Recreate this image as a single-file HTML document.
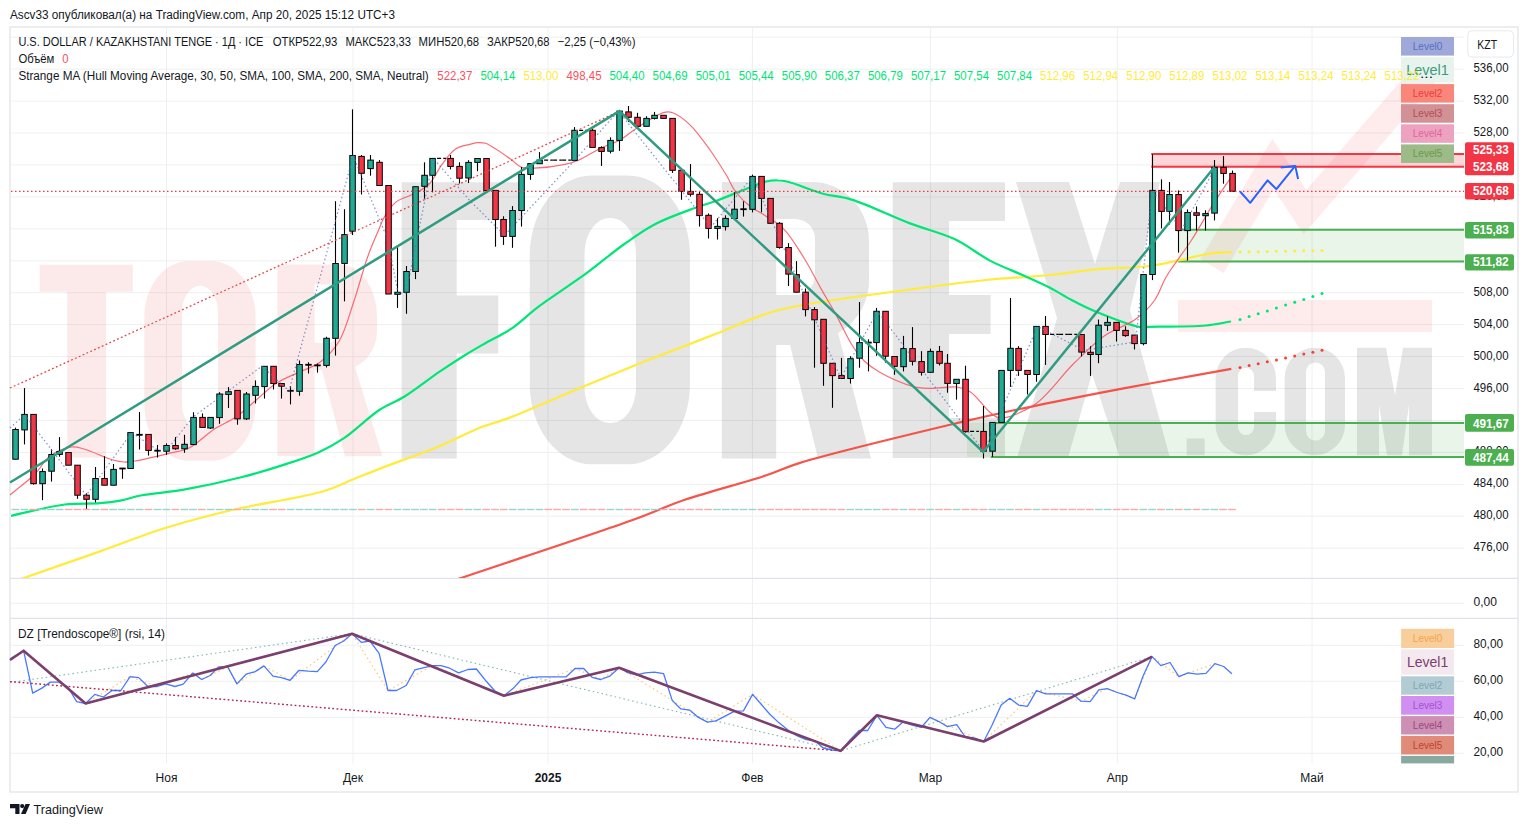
<!DOCTYPE html><html><head><meta charset="utf-8"><style>html,body{margin:0;padding:0;width:1528px;height:827px;overflow:hidden;background:#fff}</style></head><body>
<svg width="1528" height="827" viewBox="0 0 1528 827" style="position:absolute;left:0;top:0;font-family:'Liberation Sans', sans-serif">
<rect x="0" y="0" width="1528" height="827" fill="#ffffff"/>
<rect x="10" y="27" width="1508" height="765" fill="#ffffff" stroke="#e8e9ec" stroke-width="1.6"/>
<line x1="11" y1="548.2" x2="1464" y2="548.2" stroke="#eef0f0" stroke-width="1"/>
<line x1="11" y1="516.2" x2="1464" y2="516.2" stroke="#eef0f0" stroke-width="1"/>
<line x1="11" y1="484.3" x2="1464" y2="484.3" stroke="#eef0f0" stroke-width="1"/>
<line x1="11" y1="452.4" x2="1464" y2="452.4" stroke="#eef0f0" stroke-width="1"/>
<line x1="11" y1="420.4" x2="1464" y2="420.4" stroke="#eef0f0" stroke-width="1"/>
<line x1="11" y1="388.5" x2="1464" y2="388.5" stroke="#eef0f0" stroke-width="1"/>
<line x1="11" y1="356.6" x2="1464" y2="356.6" stroke="#eef0f0" stroke-width="1"/>
<line x1="11" y1="324.6" x2="1464" y2="324.6" stroke="#eef0f0" stroke-width="1"/>
<line x1="11" y1="292.7" x2="1464" y2="292.7" stroke="#eef0f0" stroke-width="1"/>
<line x1="11" y1="260.8" x2="1464" y2="260.8" stroke="#eef0f0" stroke-width="1"/>
<line x1="11" y1="228.8" x2="1464" y2="228.8" stroke="#eef0f0" stroke-width="1"/>
<line x1="11" y1="196.9" x2="1464" y2="196.9" stroke="#eef0f0" stroke-width="1"/>
<line x1="11" y1="164.9" x2="1464" y2="164.9" stroke="#eef0f0" stroke-width="1"/>
<line x1="11" y1="133.0" x2="1464" y2="133.0" stroke="#eef0f0" stroke-width="1"/>
<line x1="11" y1="101.1" x2="1464" y2="101.1" stroke="#eef0f0" stroke-width="1"/>
<line x1="11" y1="69.1" x2="1464" y2="69.1" stroke="#eef0f0" stroke-width="1"/>
<line x1="11" y1="37.2" x2="1464" y2="37.2" stroke="#eef0f0" stroke-width="1"/>
<line x1="11" y1="603.3" x2="1464" y2="603.3" stroke="#eef0f0" stroke-width="1"/>
<line x1="11" y1="753.3" x2="1464" y2="753.3" stroke="#eef0f0" stroke-width="1"/>
<line x1="11" y1="717.3" x2="1464" y2="717.3" stroke="#eef0f0" stroke-width="1"/>
<line x1="11" y1="681.3" x2="1464" y2="681.3" stroke="#eef0f0" stroke-width="1"/>
<line x1="11" y1="645.3" x2="1464" y2="645.3" stroke="#eef0f0" stroke-width="1"/>
<line x1="166.5" y1="28" x2="166.5" y2="763.4" stroke="#eef0f0" stroke-width="1"/>
<line x1="353" y1="28" x2="353" y2="763.4" stroke="#eef0f0" stroke-width="1"/>
<line x1="548" y1="28" x2="548" y2="763.4" stroke="#eef0f0" stroke-width="1"/>
<line x1="752.4" y1="28" x2="752.4" y2="763.4" stroke="#eef0f0" stroke-width="1"/>
<line x1="930.4" y1="28" x2="930.4" y2="763.4" stroke="#eef0f0" stroke-width="1"/>
<line x1="1117.3" y1="28" x2="1117.3" y2="763.4" stroke="#eef0f0" stroke-width="1"/>
<line x1="1312" y1="28" x2="1312" y2="763.4" stroke="#eef0f0" stroke-width="1"/>
<line x1="10" y1="578.3" x2="1518" y2="578.3" stroke="#e0e3eb" stroke-width="1.2"/>
<line x1="10" y1="618.3" x2="1518" y2="618.3" stroke="#e0e3eb" stroke-width="1.2"/>
<g clip-path="url(#mainclip)">
<defs><clipPath id="mainclip"><rect x="11" y="28" width="1453" height="550"/></clipPath></defs>
<path fill="#e63232" fill-opacity="0.1" d="M39.6,264.7H132.9V291.8H106V457.5H67.3V291.8H39.6Z"/>
<path fill="#e63232" fill-opacity="0.1" fill-rule="evenodd" d="M188.3,261.3 H211.6 A44.0,56.0 0 0 1 255.6,317.3 V404.7 A44.0,56.0 0 0 1 211.6,460.7 H188.3 A44.0,56.0 0 0 1 144.3,404.7 V317.3 A44.0,56.0 0 0 1 188.3,261.3 Z M200.0,285.8 H200.0 A18.0,26.0 0 0 1 218.0,311.8 V403.7 A18.0,26.0 0 0 1 200.0,429.7 H200.0 A18.0,26.0 0 0 1 182.0,403.7 V311.8 A18.0,26.0 0 0 1 200.0,285.8 Z"/>
<path fill="#e63232" fill-opacity="0.1" fill-rule="evenodd" d="M277.3,264.6 H340 A37,52 0 0 1 377,316.6 V330 A37,40 0 0 1 355,367 L382.4,456.2 H345 L322,370 H314.6 V456.2 H277.3 Z M314.6,284.6 H328 A12,20 0 0 1 340,304.6 V323 A12,20 0 0 1 328,343.1 H314.6 Z"/>
<path fill="#000" fill-opacity="0.1" d="M401.6,182.2 H523 V220 H456.7 V295.4 H498.3 V353.6 H456.7 V458.6 H401.6 Z"/>
<path fill="#000" fill-opacity="0.1" fill-rule="evenodd" d="M591.7,175.5 H628.0 A62.0,80.0 0 0 1 690.0,255.5 V384.2 A62.0,80.0 0 0 1 628.0,464.2 H591.7 A62.0,80.0 0 0 1 529.7,384.2 V255.5 A62.0,80.0 0 0 1 591.7,175.5 Z M609.5,218.0 H611.0 A25.0,36.0 0 0 1 636.0,254.0 V387.0 A25.0,36.0 0 0 1 611.0,423.0 H609.5 A25.0,36.0 0 0 1 584.5,387.0 V254.0 A25.0,36.0 0 0 1 609.5,218.0 Z"/>
<path fill="#000" fill-opacity="0.1" fill-rule="evenodd" d="M721.8,182 H812 A57,59 0 0 1 869,241 V275 A57,60 0 0 1 838,333 L871,458.4 H818 L790,345 H776.2 V458.4 H721.8 Z M776.2,219 H795 A20,20 0 0 1 815,239 V275 A20,20 0 0 1 795,295 H776.2 Z"/>
<path fill="#000" fill-opacity="0.1" d="M892.7,182.3 H1005 V221 H949 V295 H990.6 V334 H949 V418 H1005 V458 H892.7 Z"/>
<path fill="#000" fill-opacity="0.1" d="M1016,182 H1069 L1095,264 L1120,182 H1160 L1130,310 L1170,458 H1120 L1092,374 L1068,458 H1017 L1057,318 Z"/>
<rect x="1186.6" y="438.4" width="18.1" height="16.9" fill="#000" fill-opacity="0.1"/>
<path fill="#000" fill-opacity="0.1" d="M1215.6,378 A30.2,30.2 0 0 1 1276,378 V391 H1254 V376 A8,8 0 0 0 1238,376 V427 A8,8 0 0 0 1254,427 V412 H1276 V425 A30.2,30.2 0 0 1 1215.6,425 Z"/>
<path fill="#000" fill-opacity="0.1" fill-rule="evenodd" d="M1284.6,378 A30.2,30.2 0 0 1 1345,378 V425 A30.2,30.2 0 0 1 1284.6,425 Z M1306,372 A9.5,9.5 0 0 1 1325,372 V431 A9.5,9.5 0 0 1 1306,431 Z"/>
<path fill="#000" fill-opacity="0.1" d="M1357,347.7 H1386 L1395,395 L1403,347.7 H1432 V455.3 H1409 V405 L1402,455.3 H1387 L1379,405 V455.3 H1357 Z"/>
<rect x="1178" y="300" width="254" height="32" fill="#f23645" fill-opacity="0.10"/>
<polyline points="1212,266 1273,164 1305,212 1428,70" fill="none" stroke="#f23645" stroke-opacity="0.10" stroke-width="27" stroke-linejoin="miter"/>
</g>
<rect x="1151.3" y="153.9" width="312.7" height="12.8" fill="#f23645" fill-opacity="0.2"/>
<line x1="1151.3" y1="153.9" x2="1464" y2="153.9" stroke="#f23645" stroke-width="2"/>
<line x1="1151.3" y1="166.7" x2="1464" y2="166.7" stroke="#f23645" stroke-width="2"/>
<rect x="1178" y="229.7" width="286" height="31.9" fill="#4caf50" fill-opacity="0.13"/>
<line x1="1182" y1="229.7" x2="1464" y2="229.7" stroke="#4caf50" stroke-width="2"/>
<line x1="1178" y1="261.6" x2="1464" y2="261.6" stroke="#4caf50" stroke-width="2"/>
<rect x="967" y="422.7" width="497" height="34.2" fill="#4caf50" fill-opacity="0.13"/>
<line x1="996" y1="422.9" x2="1464" y2="422.9" stroke="#4caf50" stroke-width="2"/>
<line x1="990.8" y1="456.9" x2="1464" y2="456.9" stroke="#4caf50" stroke-width="2"/>
<g clip-path="url(#paneclip)"><defs><clipPath id="paneclip"><rect x="11" y="28" width="1453" height="550"/></clipPath></defs>
<path d="M18.0,580.0 C45.3,570.5 74.2,560.5 100.0,551.4 C123.2,543.2 143.9,534.7 166.0,527.8 C187.9,521.0 208.1,515.7 232.0,510.0 C259.9,503.4 301.3,497.8 323.4,491.2 C336.5,487.3 344.2,482.9 353.9,479.0 C362.8,475.5 369.0,472.9 379.3,468.9 C395.2,462.7 422.1,453.4 440.0,445.9 C454.6,439.8 467.0,432.7 479.2,427.9 C489.6,423.8 497.0,422.4 508.5,418.1 C525.4,411.7 549.6,400.8 570.5,392.0 C592.0,383.0 617.7,372.2 635.8,364.9 C648.5,359.8 656.5,356.8 668.5,352.2 C683.2,346.5 701.1,339.7 717.4,333.3 C733.7,326.9 751.4,318.5 766.4,313.7 C778.5,309.8 785.5,308.3 800.0,305.5 C826.0,300.4 876.7,294.0 910.0,289.5 C937.6,285.8 961.7,282.5 986.0,280.0 C1008.2,277.7 1030.3,277.0 1050.0,275.0 C1067.0,273.3 1081.2,270.6 1097.4,269.1 C1114.2,267.6 1134.1,267.9 1149.0,266.0 C1160.6,264.6 1169.6,262.3 1179.7,260.2 C1189.5,258.2 1199.3,255.2 1208.5,253.8 C1216.7,252.6 1224.2,252.6 1232.0,252.0" fill="none" stroke="#ffeb3b" stroke-width="2.2"/>
<path d="M10.0,516.0 C28.2,512.2 48.4,506.5 64.7,504.5 C77.7,502.9 89.9,504.0 100.0,503.2 C107.7,502.6 113.6,501.9 120.3,500.6 C127.1,499.3 132.5,497.1 140.6,495.5 C152.3,493.3 168.4,492.4 183.8,489.7 C201.9,486.5 224.6,481.5 242.2,477.0 C257.0,473.2 269.8,469.3 282.8,465.1 C295.1,461.1 307.6,457.2 318.3,452.4 C327.7,448.2 334.8,444.3 343.7,438.4 C354.9,430.9 368.1,417.4 379.3,410.0 C388.2,404.2 395.6,402.0 404.6,396.5 C415.6,389.7 429.0,378.8 440.0,371.4 C449.3,365.1 457.9,359.5 466.0,354.5 C473.0,350.2 478.7,347.0 485.7,343.0 C493.8,338.4 503.3,334.2 511.8,328.4 C520.8,322.3 527.7,314.8 537.9,307.1 C551.5,296.8 571.8,284.0 586.9,272.9 C600.4,263.0 612.3,252.5 624.4,244.0 C635.1,236.5 644.2,229.8 655.4,224.0 C667.5,217.7 683.8,212.1 694.8,208.0 C702.6,205.1 707.4,204.1 715.0,201.3 C724.9,197.7 739.6,191.4 749.0,187.8 C755.6,185.3 760.8,182.7 766.0,181.5 C770.3,180.5 774.3,180.4 778.0,180.5 C781.2,180.5 783.1,180.6 787.0,181.5 C795.1,183.3 811.6,190.6 823.0,193.7 C833.0,196.4 840.6,196.2 851.6,199.6 C867.8,204.5 891.7,216.5 910.0,223.4 C925.9,229.4 941.3,232.8 955.0,239.3 C967.7,245.3 978.2,254.4 990.0,260.6 C1001.4,266.6 1014.1,271.2 1024.7,276.0 C1033.8,280.1 1042.0,283.6 1050.0,287.7 C1057.6,291.6 1064.0,296.0 1071.6,300.0 C1079.7,304.3 1087.6,308.3 1097.4,312.3 C1109.6,317.3 1130.8,325.6 1139.7,327.0 C1143.7,327.6 1144.3,326.9 1148.5,326.8 C1159.3,326.6 1190.7,326.9 1205.9,325.5 C1216.0,324.6 1222.6,322.8 1231.0,321.5" fill="none" stroke="#00e676" stroke-width="2.2"/>
<path d="M455.0,580.0 C514.2,560.0 591.1,535.0 632.6,520.0 C655.3,511.8 665.3,506.5 684.8,499.8 C708.8,491.6 745.2,482.4 766.4,475.3 C780.1,470.7 784.5,467.7 800.0,462.9 C833.4,452.6 919.5,432.1 960.0,422.4 C984.6,416.5 998.2,413.6 1019.6,409.0 C1044.4,403.7 1076.4,397.4 1100.0,392.8 C1118.6,389.2 1131.3,386.9 1150.0,383.5 C1173.8,379.1 1204.2,373.7 1231.3,368.8" fill="none" stroke="#f44336" stroke-opacity="0.9" stroke-width="2.2"/>
</g>
<circle cx="1240.0" cy="252.0" r="1.5" fill="#ffeb3b"/>
<circle cx="1249.1" cy="251.8" r="1.5" fill="#ffeb3b"/>
<circle cx="1258.2" cy="251.7" r="1.5" fill="#ffeb3b"/>
<circle cx="1267.3" cy="251.5" r="1.5" fill="#ffeb3b"/>
<circle cx="1276.4" cy="251.3" r="1.5" fill="#ffeb3b"/>
<circle cx="1285.6" cy="251.2" r="1.5" fill="#ffeb3b"/>
<circle cx="1294.7" cy="251.0" r="1.5" fill="#ffeb3b"/>
<circle cx="1303.8" cy="250.8" r="1.5" fill="#ffeb3b"/>
<circle cx="1312.9" cy="250.7" r="1.5" fill="#ffeb3b"/>
<circle cx="1322.0" cy="250.5" r="1.5" fill="#ffeb3b"/>
<circle cx="1240.0" cy="319.5" r="1.5" fill="#00e676"/>
<circle cx="1249.1" cy="316.6" r="1.5" fill="#00e676"/>
<circle cx="1258.2" cy="313.7" r="1.5" fill="#00e676"/>
<circle cx="1267.3" cy="310.9" r="1.5" fill="#00e676"/>
<circle cx="1276.4" cy="308.0" r="1.5" fill="#00e676"/>
<circle cx="1285.6" cy="305.1" r="1.5" fill="#00e676"/>
<circle cx="1294.7" cy="302.2" r="1.5" fill="#00e676"/>
<circle cx="1303.8" cy="299.4" r="1.5" fill="#00e676"/>
<circle cx="1312.9" cy="296.5" r="1.5" fill="#00e676"/>
<circle cx="1322.0" cy="293.6" r="1.5" fill="#00e676"/>
<circle cx="1240.0" cy="367.5" r="1.5" fill="#f44336"/>
<circle cx="1249.1" cy="365.6" r="1.5" fill="#f44336"/>
<circle cx="1258.2" cy="363.7" r="1.5" fill="#f44336"/>
<circle cx="1267.3" cy="361.8" r="1.5" fill="#f44336"/>
<circle cx="1276.4" cy="359.9" r="1.5" fill="#f44336"/>
<circle cx="1285.6" cy="357.9" r="1.5" fill="#f44336"/>
<circle cx="1294.7" cy="356.0" r="1.5" fill="#f44336"/>
<circle cx="1303.8" cy="354.1" r="1.5" fill="#f44336"/>
<circle cx="1312.9" cy="352.2" r="1.5" fill="#f44336"/>
<circle cx="1322.0" cy="350.3" r="1.5" fill="#f44336"/>
<path d="M10.0,495.0 C18.3,488.0 28.0,481.0 35.0,474.0 C40.9,468.0 43.9,460.5 50.0,456.0 C56.1,451.5 65.2,447.8 71.5,447.0 C76.1,446.4 79.1,447.7 84.0,449.0 C91.7,451.1 105.6,457.9 113.0,460.0 C117.5,461.2 120.3,461.8 124.0,462.0 C127.7,462.2 130.4,461.7 135.0,461.0 C143.1,459.7 158.3,456.0 168.0,453.6 C175.8,451.7 182.0,451.4 189.0,448.0 C197.5,443.9 206.1,434.4 214.4,429.0 C221.7,424.3 229.3,421.6 236.0,417.0 C242.6,412.5 247.9,407.0 254.3,401.7 C261.2,395.9 268.4,388.4 276.0,383.5 C283.0,378.9 290.6,376.1 298.0,372.6 C305.3,369.1 313.4,367.2 320.0,362.3 C327.1,357.1 333.5,350.4 338.8,341.8 C345.4,331.0 349.3,314.9 354.0,301.0 C358.9,286.7 363.0,269.8 367.6,257.0 C371.2,246.8 375.4,237.4 378.6,230.0 C380.8,224.8 381.9,221.2 384.5,216.8 C387.6,211.7 391.7,205.3 396.4,201.6 C400.8,198.2 406.5,197.5 411.6,194.8 C417.2,191.9 423.7,189.4 428.6,184.7 C434.0,179.5 437.3,170.6 442.0,164.4 C446.3,158.7 450.5,152.3 455.6,149.0 C460.0,146.1 466.0,145.5 470.0,144.4 C472.7,143.6 474.5,142.9 477.0,142.7 C479.7,142.5 482.0,142.2 485.4,143.3 C491.8,145.4 504.3,154.8 510.8,159.3 C515.0,162.2 517.1,165.5 521.0,167.0 C525.0,168.5 529.1,168.2 534.5,168.1 C542.6,167.9 556.9,166.1 565.0,164.4 C570.5,163.2 573.6,162.3 578.5,160.2 C585.1,157.4 593.3,151.8 600.5,148.3 C607.1,145.1 614.0,143.3 620.0,140.0 C625.7,136.8 629.4,132.8 635.5,128.9 C643.5,123.7 657.4,113.9 664.3,112.3 C667.8,111.5 669.6,111.7 672.7,112.8 C677.6,114.5 684.2,119.4 689.7,124.6 C696.7,131.1 703.7,141.3 710.0,150.0 C716.1,158.5 722.4,168.7 727.0,176.3 C730.4,182.0 731.8,186.7 735.4,191.5 C739.4,196.9 745.3,202.6 750.6,206.7 C755.3,210.4 759.9,212.1 765.0,215.5 C771.0,219.5 778.1,223.2 784.0,229.3 C791.3,236.7 797.8,248.1 804.0,258.0 C810.2,267.9 815.5,278.9 821.0,288.6 C826.0,297.5 830.6,304.9 835.6,313.9 C841.1,323.9 847.1,337.4 852.6,346.0 C856.6,352.2 859.9,356.9 864.5,361.3 C869.0,365.6 873.4,368.7 879.7,372.3 C888.5,377.3 904.0,384.1 913.5,386.6 C920.0,388.3 924.2,388.2 930.5,388.4 C938.3,388.6 949.7,385.9 957.0,387.0 C962.4,387.8 965.9,389.0 970.5,392.0 C977.1,396.3 985.1,408.8 990.8,413.1 C994.2,415.7 995.9,417.8 1000.0,418.0 C1007.8,418.5 1023.7,411.9 1034.8,404.5 C1048.4,395.4 1061.1,375.9 1073.5,363.8 C1084.2,353.4 1093.7,343.4 1104.5,335.8 C1114.4,328.8 1126.8,325.8 1135.5,319.3 C1143.2,313.6 1149.9,306.9 1154.8,300.0 C1159.3,293.7 1161.6,285.3 1164.5,280.0 C1166.5,276.3 1167.5,274.7 1170.0,270.8 C1174.7,263.5 1184.7,250.6 1191.6,240.0 C1198.7,229.1 1205.3,216.7 1212.0,206.0 C1218.2,196.1 1224.3,187.3 1230.5,178.0" fill="none" stroke="#f7525f" stroke-opacity="0.85" stroke-width="1.2"/>
<rect x="11.6" y="508.8" width="7.6" height="1.4" fill="#9ad4ce"/>
<rect x="20.5" y="508.8" width="7.6" height="1.4" fill="#9ad4ce"/>
<rect x="29.4" y="508.8" width="7.6" height="1.4" fill="#f7aaa9"/>
<rect x="38.3" y="508.8" width="7.6" height="1.4" fill="#9ad4ce"/>
<rect x="47.2" y="508.8" width="7.6" height="1.4" fill="#9ad4ce"/>
<rect x="56.0" y="508.8" width="7.6" height="1.4" fill="#9ad4ce"/>
<rect x="64.9" y="508.8" width="7.6" height="1.4" fill="#f7aaa9"/>
<rect x="73.8" y="508.8" width="7.6" height="1.4" fill="#f7aaa9"/>
<rect x="82.7" y="508.8" width="7.6" height="1.4" fill="#f7aaa9"/>
<rect x="91.6" y="508.8" width="7.6" height="1.4" fill="#9ad4ce"/>
<rect x="100.4" y="508.8" width="7.6" height="1.4" fill="#f7aaa9"/>
<rect x="109.3" y="508.8" width="7.6" height="1.4" fill="#9ad4ce"/>
<rect x="118.2" y="508.8" width="7.6" height="1.4" fill="#9ad4ce"/>
<rect x="127.1" y="508.8" width="7.6" height="1.4" fill="#9ad4ce"/>
<rect x="136.0" y="508.8" width="7.6" height="1.4" fill="#9ad4ce"/>
<rect x="144.8" y="508.8" width="7.6" height="1.4" fill="#f7aaa9"/>
<rect x="153.7" y="508.8" width="7.6" height="1.4" fill="#9ad4ce"/>
<rect x="162.6" y="508.8" width="7.6" height="1.4" fill="#9ad4ce"/>
<rect x="171.5" y="508.8" width="7.6" height="1.4" fill="#f7aaa9"/>
<rect x="180.4" y="508.8" width="7.6" height="1.4" fill="#9ad4ce"/>
<rect x="189.2" y="508.8" width="7.6" height="1.4" fill="#9ad4ce"/>
<rect x="198.1" y="508.8" width="7.6" height="1.4" fill="#f7aaa9"/>
<rect x="207.0" y="508.8" width="7.6" height="1.4" fill="#9ad4ce"/>
<rect x="215.9" y="508.8" width="7.6" height="1.4" fill="#9ad4ce"/>
<rect x="224.8" y="508.8" width="7.6" height="1.4" fill="#9ad4ce"/>
<rect x="233.6" y="508.8" width="7.6" height="1.4" fill="#f7aaa9"/>
<rect x="242.5" y="508.8" width="7.6" height="1.4" fill="#9ad4ce"/>
<rect x="251.4" y="508.8" width="7.6" height="1.4" fill="#9ad4ce"/>
<rect x="260.3" y="508.8" width="7.6" height="1.4" fill="#9ad4ce"/>
<rect x="269.2" y="508.8" width="7.6" height="1.4" fill="#f7aaa9"/>
<rect x="278.0" y="508.8" width="7.6" height="1.4" fill="#f7aaa9"/>
<rect x="286.9" y="508.8" width="7.6" height="1.4" fill="#9ad4ce"/>
<rect x="295.8" y="508.8" width="7.6" height="1.4" fill="#9ad4ce"/>
<rect x="304.7" y="508.8" width="7.6" height="1.4" fill="#9ad4ce"/>
<rect x="313.6" y="508.8" width="7.6" height="1.4" fill="#9ad4ce"/>
<rect x="322.4" y="508.8" width="7.6" height="1.4" fill="#9ad4ce"/>
<rect x="331.3" y="508.8" width="7.6" height="1.4" fill="#9ad4ce"/>
<rect x="340.2" y="508.8" width="7.6" height="1.4" fill="#9ad4ce"/>
<rect x="349.1" y="508.8" width="7.6" height="1.4" fill="#9ad4ce"/>
<rect x="358.0" y="508.8" width="7.6" height="1.4" fill="#f7aaa9"/>
<rect x="366.8" y="508.8" width="7.6" height="1.4" fill="#9ad4ce"/>
<rect x="375.7" y="508.8" width="7.6" height="1.4" fill="#f7aaa9"/>
<rect x="384.6" y="508.8" width="7.6" height="1.4" fill="#f7aaa9"/>
<rect x="393.5" y="508.8" width="7.6" height="1.4" fill="#9ad4ce"/>
<rect x="402.4" y="508.8" width="7.6" height="1.4" fill="#9ad4ce"/>
<rect x="411.2" y="508.8" width="7.6" height="1.4" fill="#9ad4ce"/>
<rect x="420.1" y="508.8" width="7.6" height="1.4" fill="#9ad4ce"/>
<rect x="429.0" y="508.8" width="7.6" height="1.4" fill="#9ad4ce"/>
<rect x="437.9" y="508.8" width="7.6" height="1.4" fill="#f7aaa9"/>
<rect x="446.8" y="508.8" width="7.6" height="1.4" fill="#f7aaa9"/>
<rect x="455.6" y="508.8" width="7.6" height="1.4" fill="#f7aaa9"/>
<rect x="464.5" y="508.8" width="7.6" height="1.4" fill="#9ad4ce"/>
<rect x="473.4" y="508.8" width="7.6" height="1.4" fill="#9ad4ce"/>
<rect x="482.3" y="508.8" width="7.6" height="1.4" fill="#f7aaa9"/>
<rect x="491.2" y="508.8" width="7.6" height="1.4" fill="#f7aaa9"/>
<rect x="500.0" y="508.8" width="7.6" height="1.4" fill="#f7aaa9"/>
<rect x="508.9" y="508.8" width="7.6" height="1.4" fill="#9ad4ce"/>
<rect x="517.8" y="508.8" width="7.6" height="1.4" fill="#9ad4ce"/>
<rect x="526.7" y="508.8" width="7.6" height="1.4" fill="#9ad4ce"/>
<rect x="535.6" y="508.8" width="7.6" height="1.4" fill="#9ad4ce"/>
<rect x="544.4" y="508.8" width="7.6" height="1.4" fill="#f7aaa9"/>
<rect x="553.3" y="508.8" width="7.6" height="1.4" fill="#f7aaa9"/>
<rect x="562.2" y="508.8" width="7.6" height="1.4" fill="#f7aaa9"/>
<rect x="571.1" y="508.8" width="7.6" height="1.4" fill="#9ad4ce"/>
<rect x="580.0" y="508.8" width="7.6" height="1.4" fill="#f7aaa9"/>
<rect x="588.8" y="508.8" width="7.6" height="1.4" fill="#f7aaa9"/>
<rect x="597.7" y="508.8" width="7.6" height="1.4" fill="#f7aaa9"/>
<rect x="606.6" y="508.8" width="7.6" height="1.4" fill="#9ad4ce"/>
<rect x="615.5" y="508.8" width="7.6" height="1.4" fill="#9ad4ce"/>
<rect x="624.4" y="508.8" width="7.6" height="1.4" fill="#f7aaa9"/>
<rect x="633.2" y="508.8" width="7.6" height="1.4" fill="#f7aaa9"/>
<rect x="642.1" y="508.8" width="7.6" height="1.4" fill="#9ad4ce"/>
<rect x="651.0" y="508.8" width="7.6" height="1.4" fill="#9ad4ce"/>
<rect x="659.9" y="508.8" width="7.6" height="1.4" fill="#f7aaa9"/>
<rect x="668.8" y="508.8" width="7.6" height="1.4" fill="#f7aaa9"/>
<rect x="677.6" y="508.8" width="7.6" height="1.4" fill="#f7aaa9"/>
<rect x="686.5" y="508.8" width="7.6" height="1.4" fill="#f7aaa9"/>
<rect x="695.4" y="508.8" width="7.6" height="1.4" fill="#f7aaa9"/>
<rect x="704.3" y="508.8" width="7.6" height="1.4" fill="#f7aaa9"/>
<rect x="713.2" y="508.8" width="7.6" height="1.4" fill="#9ad4ce"/>
<rect x="722.0" y="508.8" width="7.6" height="1.4" fill="#9ad4ce"/>
<rect x="730.9" y="508.8" width="7.6" height="1.4" fill="#9ad4ce"/>
<rect x="739.8" y="508.8" width="7.6" height="1.4" fill="#9ad4ce"/>
<rect x="748.7" y="508.8" width="7.6" height="1.4" fill="#9ad4ce"/>
<rect x="757.6" y="508.8" width="7.6" height="1.4" fill="#f7aaa9"/>
<rect x="766.4" y="508.8" width="7.6" height="1.4" fill="#f7aaa9"/>
<rect x="775.3" y="508.8" width="7.6" height="1.4" fill="#f7aaa9"/>
<rect x="784.2" y="508.8" width="7.6" height="1.4" fill="#f7aaa9"/>
<rect x="793.1" y="508.8" width="7.6" height="1.4" fill="#f7aaa9"/>
<rect x="802.0" y="508.8" width="7.6" height="1.4" fill="#f7aaa9"/>
<rect x="810.8" y="508.8" width="7.6" height="1.4" fill="#f7aaa9"/>
<rect x="819.7" y="508.8" width="7.6" height="1.4" fill="#f7aaa9"/>
<rect x="828.6" y="508.8" width="7.6" height="1.4" fill="#f7aaa9"/>
<rect x="837.5" y="508.8" width="7.6" height="1.4" fill="#f7aaa9"/>
<rect x="846.4" y="508.8" width="7.6" height="1.4" fill="#9ad4ce"/>
<rect x="855.2" y="508.8" width="7.6" height="1.4" fill="#9ad4ce"/>
<rect x="864.1" y="508.8" width="7.6" height="1.4" fill="#9ad4ce"/>
<rect x="873.0" y="508.8" width="7.6" height="1.4" fill="#9ad4ce"/>
<rect x="881.9" y="508.8" width="7.6" height="1.4" fill="#f7aaa9"/>
<rect x="890.8" y="508.8" width="7.6" height="1.4" fill="#f7aaa9"/>
<rect x="899.6" y="508.8" width="7.6" height="1.4" fill="#9ad4ce"/>
<rect x="908.5" y="508.8" width="7.6" height="1.4" fill="#f7aaa9"/>
<rect x="917.4" y="508.8" width="7.6" height="1.4" fill="#f7aaa9"/>
<rect x="926.3" y="508.8" width="7.6" height="1.4" fill="#9ad4ce"/>
<rect x="935.2" y="508.8" width="7.6" height="1.4" fill="#f7aaa9"/>
<rect x="944.0" y="508.8" width="7.6" height="1.4" fill="#f7aaa9"/>
<rect x="952.9" y="508.8" width="7.6" height="1.4" fill="#9ad4ce"/>
<rect x="961.8" y="508.8" width="7.6" height="1.4" fill="#f7aaa9"/>
<rect x="970.7" y="508.8" width="7.6" height="1.4" fill="#f7aaa9"/>
<rect x="979.6" y="508.8" width="7.6" height="1.4" fill="#f7aaa9"/>
<rect x="988.4" y="508.8" width="7.6" height="1.4" fill="#9ad4ce"/>
<rect x="997.3" y="508.8" width="7.6" height="1.4" fill="#9ad4ce"/>
<rect x="1006.2" y="508.8" width="7.6" height="1.4" fill="#9ad4ce"/>
<rect x="1015.1" y="508.8" width="7.6" height="1.4" fill="#f7aaa9"/>
<rect x="1024.0" y="508.8" width="7.6" height="1.4" fill="#f7aaa9"/>
<rect x="1032.8" y="508.8" width="7.6" height="1.4" fill="#9ad4ce"/>
<rect x="1041.7" y="508.8" width="7.6" height="1.4" fill="#f7aaa9"/>
<rect x="1050.6" y="508.8" width="7.6" height="1.4" fill="#f7aaa9"/>
<rect x="1059.5" y="508.8" width="7.6" height="1.4" fill="#f7aaa9"/>
<rect x="1068.4" y="508.8" width="7.6" height="1.4" fill="#f7aaa9"/>
<rect x="1077.2" y="508.8" width="7.6" height="1.4" fill="#f7aaa9"/>
<rect x="1086.1" y="508.8" width="7.6" height="1.4" fill="#f7aaa9"/>
<rect x="1095.0" y="508.8" width="7.6" height="1.4" fill="#9ad4ce"/>
<rect x="1103.9" y="508.8" width="7.6" height="1.4" fill="#9ad4ce"/>
<rect x="1112.8" y="508.8" width="7.6" height="1.4" fill="#f7aaa9"/>
<rect x="1121.6" y="508.8" width="7.6" height="1.4" fill="#f7aaa9"/>
<rect x="1130.5" y="508.8" width="7.6" height="1.4" fill="#f7aaa9"/>
<rect x="1139.4" y="508.8" width="7.6" height="1.4" fill="#9ad4ce"/>
<rect x="1148.3" y="508.8" width="7.6" height="1.4" fill="#9ad4ce"/>
<rect x="1157.2" y="508.8" width="7.6" height="1.4" fill="#f7aaa9"/>
<rect x="1166.0" y="508.8" width="7.6" height="1.4" fill="#9ad4ce"/>
<rect x="1174.9" y="508.8" width="7.6" height="1.4" fill="#f7aaa9"/>
<rect x="1183.8" y="508.8" width="7.6" height="1.4" fill="#9ad4ce"/>
<rect x="1192.7" y="508.8" width="7.6" height="1.4" fill="#f7aaa9"/>
<rect x="1201.6" y="508.8" width="7.6" height="1.4" fill="#9ad4ce"/>
<rect x="1210.4" y="508.8" width="7.6" height="1.4" fill="#9ad4ce"/>
<rect x="1219.3" y="508.8" width="7.6" height="1.4" fill="#f7aaa9"/>
<rect x="1228.2" y="508.8" width="7.6" height="1.4" fill="#f7aaa9"/>
<line x1="15.5" y1="427.7" x2="15.5" y2="459.2" stroke="#000" stroke-width="1.1"/>
<rect x="12.8" y="429.5" width="5.5" height="29.7" fill="#22ab94" stroke="#000" stroke-width="1"/>
<line x1="24.5" y1="388.1" x2="24.5" y2="444.4" stroke="#000" stroke-width="1.1"/>
<rect x="21.8" y="414.4" width="5.5" height="15.5" fill="#22ab94" stroke="#000" stroke-width="1"/>
<line x1="33.5" y1="414.4" x2="33.5" y2="484.6" stroke="#000" stroke-width="1.1"/>
<rect x="30.8" y="414.4" width="5.5" height="69.3" fill="#f23645" stroke="#000" stroke-width="1"/>
<line x1="42.5" y1="468.5" x2="42.5" y2="500.2" stroke="#000" stroke-width="1.1"/>
<rect x="39.8" y="471.6" width="5.5" height="12.1" fill="#22ab94" stroke="#000" stroke-width="1"/>
<line x1="51.5" y1="449.3" x2="51.5" y2="481.6" stroke="#000" stroke-width="1.1"/>
<rect x="48.8" y="454.5" width="5.5" height="16.7" fill="#22ab94" stroke="#000" stroke-width="1"/>
<line x1="59.5" y1="437.1" x2="59.5" y2="456.7" stroke="#000" stroke-width="1.1"/>
<rect x="56.8" y="451.6" width="5.5" height="2.8" fill="#22ab94" stroke="#000" stroke-width="1"/>
<line x1="68.5" y1="452.5" x2="68.5" y2="465.2" stroke="#000" stroke-width="1.1"/>
<rect x="65.8" y="452.5" width="5.5" height="12.7" fill="#f23645" stroke="#000" stroke-width="1"/>
<line x1="77.5" y1="465.2" x2="77.5" y2="498.8" stroke="#000" stroke-width="1.1"/>
<rect x="74.8" y="465.2" width="5.5" height="30.0" fill="#f23645" stroke="#000" stroke-width="1"/>
<line x1="86.5" y1="493.3" x2="86.5" y2="508.8" stroke="#000" stroke-width="1.1"/>
<rect x="83.8" y="495.2" width="5.5" height="4.1" fill="#f23645" stroke="#000" stroke-width="1"/>
<line x1="95.5" y1="467.0" x2="95.5" y2="502.4" stroke="#000" stroke-width="1.1"/>
<rect x="92.8" y="478.5" width="5.5" height="20.8" fill="#22ab94" stroke="#000" stroke-width="1"/>
<line x1="104.5" y1="456.2" x2="104.5" y2="485.2" stroke="#000" stroke-width="1.1"/>
<rect x="101.8" y="478.5" width="5.5" height="6.7" fill="#f23645" stroke="#000" stroke-width="1"/>
<line x1="113.5" y1="464.0" x2="113.5" y2="485.2" stroke="#000" stroke-width="1.1"/>
<rect x="110.8" y="469.4" width="5.5" height="15.8" fill="#22ab94" stroke="#000" stroke-width="1"/>
<line x1="122.5" y1="468.5" x2="122.5" y2="478.8" stroke="#000" stroke-width="1.1"/>
<rect x="119.3" y="467.6" width="6.4" height="1.8" fill="#000"/>
<line x1="130.5" y1="432.6" x2="130.5" y2="468.5" stroke="#000" stroke-width="1.1"/>
<rect x="127.8" y="432.6" width="5.5" height="35.9" fill="#22ab94" stroke="#000" stroke-width="1"/>
<line x1="139.5" y1="412.1" x2="139.5" y2="449.5" stroke="#000" stroke-width="1.1"/>
<rect x="136.3" y="433.9" width="6.4" height="1.8" fill="#000"/>
<line x1="148.5" y1="434.4" x2="148.5" y2="455.6" stroke="#000" stroke-width="1.1"/>
<rect x="145.8" y="434.4" width="5.5" height="16.0" fill="#f23645" stroke="#000" stroke-width="1"/>
<line x1="157.5" y1="444.9" x2="157.5" y2="457.6" stroke="#000" stroke-width="1.1"/>
<rect x="154.3" y="449.8" width="6.4" height="1.8" fill="#000"/>
<line x1="166.5" y1="443.4" x2="166.5" y2="454.8" stroke="#000" stroke-width="1.1"/>
<rect x="163.8" y="445.5" width="5.5" height="5.7" fill="#22ab94" stroke="#000" stroke-width="1"/>
<line x1="175.5" y1="437.0" x2="175.5" y2="449.7" stroke="#000" stroke-width="1.1"/>
<rect x="172.8" y="445.5" width="5.5" height="3.3" fill="#f23645" stroke="#000" stroke-width="1"/>
<line x1="184.5" y1="434.8" x2="184.5" y2="452.8" stroke="#000" stroke-width="1.1"/>
<rect x="181.8" y="444.3" width="5.5" height="4.5" fill="#22ab94" stroke="#000" stroke-width="1"/>
<line x1="193.5" y1="412.2" x2="193.5" y2="444.6" stroke="#000" stroke-width="1.1"/>
<rect x="190.8" y="417.4" width="5.5" height="27.2" fill="#22ab94" stroke="#000" stroke-width="1"/>
<line x1="202.5" y1="413.4" x2="202.5" y2="427.4" stroke="#000" stroke-width="1.1"/>
<rect x="199.8" y="417.4" width="5.5" height="10.0" fill="#f23645" stroke="#000" stroke-width="1"/>
<line x1="210.5" y1="417.4" x2="210.5" y2="428.9" stroke="#000" stroke-width="1.1"/>
<rect x="207.8" y="417.4" width="5.5" height="10.6" fill="#22ab94" stroke="#000" stroke-width="1"/>
<line x1="219.5" y1="392.2" x2="219.5" y2="423.8" stroke="#000" stroke-width="1.1"/>
<rect x="216.8" y="394.0" width="5.5" height="23.6" fill="#22ab94" stroke="#000" stroke-width="1"/>
<line x1="228.5" y1="387.1" x2="228.5" y2="408.0" stroke="#000" stroke-width="1.1"/>
<rect x="225.8" y="391.7" width="5.5" height="2.7" fill="#22ab94" stroke="#000" stroke-width="1"/>
<line x1="237.5" y1="390.4" x2="237.5" y2="424.7" stroke="#000" stroke-width="1.1"/>
<rect x="234.8" y="390.4" width="5.5" height="28.5" fill="#f23645" stroke="#000" stroke-width="1"/>
<line x1="246.5" y1="392.0" x2="246.5" y2="420.0" stroke="#000" stroke-width="1.1"/>
<rect x="243.8" y="394.0" width="5.5" height="24.9" fill="#22ab94" stroke="#000" stroke-width="1"/>
<line x1="255.5" y1="380.4" x2="255.5" y2="403.5" stroke="#000" stroke-width="1.1"/>
<rect x="252.8" y="386.4" width="5.5" height="8.9" fill="#22ab94" stroke="#000" stroke-width="1"/>
<line x1="264.5" y1="366.3" x2="264.5" y2="398.6" stroke="#000" stroke-width="1.1"/>
<rect x="261.8" y="366.3" width="5.5" height="20.3" fill="#22ab94" stroke="#000" stroke-width="1"/>
<line x1="273.5" y1="366.3" x2="273.5" y2="389.5" stroke="#000" stroke-width="1.1"/>
<rect x="270.8" y="366.3" width="5.5" height="17.2" fill="#f23645" stroke="#000" stroke-width="1"/>
<line x1="281.5" y1="383.5" x2="281.5" y2="398.6" stroke="#000" stroke-width="1.1"/>
<rect x="278.8" y="383.5" width="5.5" height="2.7" fill="#f23645" stroke="#000" stroke-width="1"/>
<line x1="290.5" y1="386.2" x2="290.5" y2="404.4" stroke="#000" stroke-width="1.1"/>
<rect x="287.3" y="389.9" width="6.4" height="1.8" fill="#000"/>
<line x1="299.5" y1="360.5" x2="299.5" y2="395.7" stroke="#000" stroke-width="1.1"/>
<rect x="296.8" y="364.5" width="5.5" height="26.8" fill="#22ab94" stroke="#000" stroke-width="1"/>
<line x1="308.5" y1="362.3" x2="308.5" y2="373.5" stroke="#000" stroke-width="1.1"/>
<rect x="305.3" y="363.9" width="6.4" height="1.8" fill="#000"/>
<line x1="317.5" y1="363.6" x2="317.5" y2="372.6" stroke="#000" stroke-width="1.1"/>
<rect x="314.3" y="364.5" width="6.4" height="1.8" fill="#000"/>
<line x1="326.5" y1="336.7" x2="326.5" y2="367.5" stroke="#000" stroke-width="1.1"/>
<rect x="323.8" y="338.3" width="5.5" height="27.1" fill="#22ab94" stroke="#000" stroke-width="1"/>
<line x1="335.5" y1="201.2" x2="335.5" y2="355.6" stroke="#000" stroke-width="1.1"/>
<rect x="332.8" y="263.5" width="5.5" height="74.8" fill="#22ab94" stroke="#000" stroke-width="1"/>
<line x1="344.5" y1="209.2" x2="344.5" y2="301.4" stroke="#000" stroke-width="1.1"/>
<rect x="341.8" y="234.6" width="5.5" height="28.8" fill="#22ab94" stroke="#000" stroke-width="1"/>
<line x1="352.5" y1="109.3" x2="352.5" y2="235.0" stroke="#000" stroke-width="1.1"/>
<rect x="349.8" y="155.5" width="5.5" height="75.7" fill="#22ab94" stroke="#000" stroke-width="1"/>
<line x1="361.5" y1="155.0" x2="361.5" y2="194.5" stroke="#000" stroke-width="1.1"/>
<rect x="358.8" y="156.4" width="5.5" height="16.9" fill="#f23645" stroke="#000" stroke-width="1"/>
<line x1="370.5" y1="155.0" x2="370.5" y2="175.7" stroke="#000" stroke-width="1.1"/>
<rect x="367.8" y="160.1" width="5.5" height="8.5" fill="#22ab94" stroke="#000" stroke-width="1"/>
<line x1="379.5" y1="160.1" x2="379.5" y2="185.5" stroke="#000" stroke-width="1.1"/>
<rect x="376.8" y="162.3" width="5.5" height="23.2" fill="#f23645" stroke="#000" stroke-width="1"/>
<line x1="388.5" y1="185.5" x2="388.5" y2="294.0" stroke="#000" stroke-width="1.1"/>
<rect x="385.8" y="185.5" width="5.5" height="108.5" fill="#f23645" stroke="#000" stroke-width="1"/>
<line x1="397.5" y1="245.2" x2="397.5" y2="307.9" stroke="#000" stroke-width="1.1"/>
<rect x="394.8" y="292.3" width="5.5" height="2.0" fill="#22ab94" stroke="#000" stroke-width="1"/>
<line x1="406.5" y1="266.0" x2="406.5" y2="313.8" stroke="#000" stroke-width="1.1"/>
<rect x="403.8" y="271.5" width="5.5" height="20.8" fill="#22ab94" stroke="#000" stroke-width="1"/>
<line x1="415.5" y1="186.7" x2="415.5" y2="279.1" stroke="#000" stroke-width="1.1"/>
<rect x="412.8" y="186.7" width="5.5" height="84.8" fill="#22ab94" stroke="#000" stroke-width="1"/>
<line x1="424.5" y1="162.3" x2="424.5" y2="198.7" stroke="#000" stroke-width="1.1"/>
<rect x="421.8" y="175.3" width="5.5" height="11.0" fill="#22ab94" stroke="#000" stroke-width="1"/>
<line x1="432.5" y1="158.4" x2="432.5" y2="192.3" stroke="#000" stroke-width="1.1"/>
<rect x="429.8" y="158.4" width="5.5" height="16.9" fill="#22ab94" stroke="#000" stroke-width="1"/>
<line x1="437.1" y1="158.4" x2="445.9" y2="158.4" stroke="#000" stroke-width="1.3" stroke-dasharray="4,2.2"/>
<line x1="450.5" y1="155.0" x2="450.5" y2="169.4" stroke="#000" stroke-width="1.1"/>
<rect x="447.8" y="158.4" width="5.5" height="8.0" fill="#f23645" stroke="#000" stroke-width="1"/>
<line x1="459.5" y1="162.3" x2="459.5" y2="183.5" stroke="#000" stroke-width="1.1"/>
<rect x="456.8" y="166.4" width="5.5" height="11.8" fill="#f23645" stroke="#000" stroke-width="1"/>
<line x1="468.5" y1="160.2" x2="468.5" y2="183.0" stroke="#000" stroke-width="1.1"/>
<rect x="465.8" y="162.4" width="5.5" height="15.6" fill="#22ab94" stroke="#000" stroke-width="1"/>
<line x1="477.5" y1="158.5" x2="477.5" y2="171.2" stroke="#000" stroke-width="1.1"/>
<rect x="474.8" y="158.5" width="5.5" height="3.9" fill="#22ab94" stroke="#000" stroke-width="1"/>
<line x1="486.5" y1="158.5" x2="486.5" y2="190.5" stroke="#000" stroke-width="1.1"/>
<rect x="483.8" y="158.5" width="5.5" height="32.0" fill="#f23645" stroke="#000" stroke-width="1"/>
<line x1="495.5" y1="190.4" x2="495.5" y2="246.7" stroke="#000" stroke-width="1.1"/>
<rect x="492.8" y="190.4" width="5.5" height="29.1" fill="#f23645" stroke="#000" stroke-width="1"/>
<line x1="503.5" y1="216.3" x2="503.5" y2="244.9" stroke="#000" stroke-width="1.1"/>
<rect x="500.8" y="219.5" width="5.5" height="16.9" fill="#f23645" stroke="#000" stroke-width="1"/>
<line x1="512.5" y1="206.1" x2="512.5" y2="247.8" stroke="#000" stroke-width="1.1"/>
<rect x="509.8" y="210.5" width="5.5" height="25.9" fill="#22ab94" stroke="#000" stroke-width="1"/>
<line x1="521.5" y1="167.0" x2="521.5" y2="226.6" stroke="#000" stroke-width="1.1"/>
<rect x="518.8" y="174.4" width="5.5" height="36.1" fill="#22ab94" stroke="#000" stroke-width="1"/>
<line x1="530.5" y1="163.6" x2="530.5" y2="179.8" stroke="#000" stroke-width="1.1"/>
<rect x="527.8" y="163.6" width="5.5" height="10.8" fill="#22ab94" stroke="#000" stroke-width="1"/>
<line x1="539.5" y1="152.1" x2="539.5" y2="163.7" stroke="#000" stroke-width="1.1"/>
<rect x="536.8" y="160.1" width="5.5" height="3.6" fill="#22ab94" stroke="#000" stroke-width="1"/>
<line x1="544.1" y1="160.2" x2="552.9" y2="160.2" stroke="#000" stroke-width="1.3" stroke-dasharray="4,2.2"/>
<line x1="553.1" y1="160.2" x2="561.9" y2="160.2" stroke="#000" stroke-width="1.3" stroke-dasharray="4,2.2"/>
<line x1="562.1" y1="160.2" x2="570.9" y2="160.2" stroke="#000" stroke-width="1.3" stroke-dasharray="4,2.2"/>
<line x1="574.5" y1="127.1" x2="574.5" y2="160.4" stroke="#000" stroke-width="1.1"/>
<rect x="571.8" y="130.3" width="5.5" height="30.1" fill="#22ab94" stroke="#000" stroke-width="1"/>
<line x1="579.1" y1="130.3" x2="587.9" y2="130.3" stroke="#000" stroke-width="1.3" stroke-dasharray="4,2.2"/>
<line x1="592.5" y1="128.5" x2="592.5" y2="147.4" stroke="#000" stroke-width="1.1"/>
<rect x="589.8" y="130.3" width="5.5" height="17.1" fill="#f23645" stroke="#000" stroke-width="1"/>
<line x1="601.5" y1="146.3" x2="601.5" y2="165.9" stroke="#000" stroke-width="1.1"/>
<rect x="598.8" y="147.6" width="5.5" height="3.8" fill="#f23645" stroke="#000" stroke-width="1"/>
<line x1="610.5" y1="137.3" x2="610.5" y2="153.4" stroke="#000" stroke-width="1.1"/>
<rect x="607.8" y="140.4" width="5.5" height="10.8" fill="#22ab94" stroke="#000" stroke-width="1"/>
<line x1="619.5" y1="111.1" x2="619.5" y2="150.9" stroke="#000" stroke-width="1.1"/>
<rect x="616.8" y="111.1" width="5.5" height="29.3" fill="#22ab94" stroke="#000" stroke-width="1"/>
<line x1="628.5" y1="106.0" x2="628.5" y2="122.1" stroke="#000" stroke-width="1.1"/>
<rect x="625.8" y="111.9" width="5.5" height="5.4" fill="#f23645" stroke="#000" stroke-width="1"/>
<line x1="637.5" y1="112.8" x2="637.5" y2="126.3" stroke="#000" stroke-width="1.1"/>
<rect x="634.8" y="117.3" width="5.5" height="9.0" fill="#f23645" stroke="#000" stroke-width="1"/>
<line x1="646.5" y1="116.2" x2="646.5" y2="126.3" stroke="#000" stroke-width="1.1"/>
<rect x="643.8" y="118.4" width="5.5" height="7.9" fill="#22ab94" stroke="#000" stroke-width="1"/>
<line x1="654.5" y1="111.9" x2="654.5" y2="119.5" stroke="#000" stroke-width="1.1"/>
<rect x="651.8" y="115.3" width="5.5" height="3.1" fill="#22ab94" stroke="#000" stroke-width="1"/>
<line x1="663.5" y1="115.3" x2="663.5" y2="118.4" stroke="#000" stroke-width="1.1"/>
<rect x="660.8" y="115.3" width="5.5" height="3.1" fill="#f23645" stroke="#000" stroke-width="1"/>
<line x1="672.5" y1="118.4" x2="672.5" y2="172.9" stroke="#000" stroke-width="1.1"/>
<rect x="669.8" y="118.4" width="5.5" height="51.9" fill="#f23645" stroke="#000" stroke-width="1"/>
<line x1="681.5" y1="170.3" x2="681.5" y2="199.8" stroke="#000" stroke-width="1.1"/>
<rect x="678.8" y="170.3" width="5.5" height="21.1" fill="#f23645" stroke="#000" stroke-width="1"/>
<line x1="690.5" y1="164.1" x2="690.5" y2="196.6" stroke="#000" stroke-width="1.1"/>
<rect x="687.8" y="191.4" width="5.5" height="2.9" fill="#f23645" stroke="#000" stroke-width="1"/>
<line x1="699.5" y1="191.4" x2="699.5" y2="226.6" stroke="#000" stroke-width="1.1"/>
<rect x="696.8" y="194.3" width="5.5" height="21.3" fill="#f23645" stroke="#000" stroke-width="1"/>
<line x1="708.5" y1="213.4" x2="708.5" y2="238.5" stroke="#000" stroke-width="1.1"/>
<rect x="705.8" y="215.3" width="5.5" height="13.1" fill="#f23645" stroke="#000" stroke-width="1"/>
<line x1="717.5" y1="218.2" x2="717.5" y2="239.5" stroke="#000" stroke-width="1.1"/>
<rect x="714.8" y="226.4" width="5.5" height="2.0" fill="#22ab94" stroke="#000" stroke-width="1"/>
<line x1="725.5" y1="215.3" x2="725.5" y2="230.5" stroke="#000" stroke-width="1.1"/>
<rect x="722.8" y="218.4" width="5.5" height="8.2" fill="#22ab94" stroke="#000" stroke-width="1"/>
<line x1="734.5" y1="192.1" x2="734.5" y2="218.5" stroke="#000" stroke-width="1.1"/>
<rect x="731.8" y="209.2" width="5.5" height="9.3" fill="#22ab94" stroke="#000" stroke-width="1"/>
<line x1="743.5" y1="201.3" x2="743.5" y2="216.6" stroke="#000" stroke-width="1.1"/>
<rect x="740.3" y="208.3" width="6.4" height="1.8" fill="#000"/>
<line x1="752.5" y1="174.6" x2="752.5" y2="212.4" stroke="#000" stroke-width="1.1"/>
<rect x="749.8" y="176.4" width="5.5" height="32.9" fill="#22ab94" stroke="#000" stroke-width="1"/>
<line x1="761.5" y1="176.4" x2="761.5" y2="212.3" stroke="#000" stroke-width="1.1"/>
<rect x="758.8" y="176.4" width="5.5" height="22.0" fill="#f23645" stroke="#000" stroke-width="1"/>
<line x1="770.5" y1="198.4" x2="770.5" y2="223.3" stroke="#000" stroke-width="1.1"/>
<rect x="767.8" y="198.4" width="5.5" height="24.9" fill="#f23645" stroke="#000" stroke-width="1"/>
<line x1="779.5" y1="222.1" x2="779.5" y2="248.7" stroke="#000" stroke-width="1.1"/>
<rect x="776.8" y="223.3" width="5.5" height="24.2" fill="#f23645" stroke="#000" stroke-width="1"/>
<line x1="788.5" y1="243.1" x2="788.5" y2="286.0" stroke="#000" stroke-width="1.1"/>
<rect x="785.8" y="247.5" width="5.5" height="26.6" fill="#f23645" stroke="#000" stroke-width="1"/>
<line x1="796.5" y1="261.1" x2="796.5" y2="292.2" stroke="#000" stroke-width="1.1"/>
<rect x="793.8" y="274.6" width="5.5" height="17.6" fill="#f23645" stroke="#000" stroke-width="1"/>
<line x1="805.5" y1="288.5" x2="805.5" y2="316.4" stroke="#000" stroke-width="1.1"/>
<rect x="802.8" y="292.2" width="5.5" height="17.4" fill="#f23645" stroke="#000" stroke-width="1"/>
<line x1="814.5" y1="307.1" x2="814.5" y2="367.7" stroke="#000" stroke-width="1.1"/>
<rect x="811.8" y="309.6" width="5.5" height="10.2" fill="#f23645" stroke="#000" stroke-width="1"/>
<line x1="823.5" y1="319.3" x2="823.5" y2="385.8" stroke="#000" stroke-width="1.1"/>
<rect x="820.8" y="319.3" width="5.5" height="44.0" fill="#f23645" stroke="#000" stroke-width="1"/>
<line x1="832.5" y1="363.3" x2="832.5" y2="407.8" stroke="#000" stroke-width="1.1"/>
<rect x="829.8" y="363.3" width="5.5" height="12.3" fill="#f23645" stroke="#000" stroke-width="1"/>
<line x1="841.5" y1="357.9" x2="841.5" y2="378.5" stroke="#000" stroke-width="1.1"/>
<rect x="838.8" y="375.6" width="5.5" height="2.9" fill="#f23645" stroke="#000" stroke-width="1"/>
<line x1="850.5" y1="356.2" x2="850.5" y2="383.6" stroke="#000" stroke-width="1.1"/>
<rect x="847.8" y="358.7" width="5.5" height="19.8" fill="#22ab94" stroke="#000" stroke-width="1"/>
<line x1="859.5" y1="302.0" x2="859.5" y2="367.7" stroke="#000" stroke-width="1.1"/>
<rect x="856.8" y="342.6" width="5.5" height="15.6" fill="#22ab94" stroke="#000" stroke-width="1"/>
<line x1="868.5" y1="339.3" x2="868.5" y2="371.4" stroke="#000" stroke-width="1.1"/>
<rect x="865.3" y="341.7" width="6.4" height="1.8" fill="#000"/>
<line x1="876.5" y1="307.9" x2="876.5" y2="355.8" stroke="#000" stroke-width="1.1"/>
<rect x="873.8" y="311.3" width="5.5" height="31.3" fill="#22ab94" stroke="#000" stroke-width="1"/>
<line x1="885.5" y1="311.3" x2="885.5" y2="362.6" stroke="#000" stroke-width="1.1"/>
<rect x="882.8" y="311.3" width="5.5" height="44.9" fill="#f23645" stroke="#000" stroke-width="1"/>
<line x1="894.5" y1="356.5" x2="894.5" y2="374.8" stroke="#000" stroke-width="1.1"/>
<rect x="891.8" y="356.5" width="5.5" height="9.8" fill="#f23645" stroke="#000" stroke-width="1"/>
<line x1="903.5" y1="335.9" x2="903.5" y2="371.4" stroke="#000" stroke-width="1.1"/>
<rect x="900.8" y="348.6" width="5.5" height="18.1" fill="#22ab94" stroke="#000" stroke-width="1"/>
<line x1="912.5" y1="327.1" x2="912.5" y2="365.5" stroke="#000" stroke-width="1.1"/>
<rect x="909.8" y="348.6" width="5.5" height="12.7" fill="#f23645" stroke="#000" stroke-width="1"/>
<line x1="921.5" y1="351.1" x2="921.5" y2="375.6" stroke="#000" stroke-width="1.1"/>
<rect x="918.8" y="361.6" width="5.5" height="10.7" fill="#f23645" stroke="#000" stroke-width="1"/>
<line x1="930.5" y1="348.6" x2="930.5" y2="372.3" stroke="#000" stroke-width="1.1"/>
<rect x="927.8" y="351.4" width="5.5" height="20.9" fill="#22ab94" stroke="#000" stroke-width="1"/>
<line x1="939.5" y1="346.0" x2="939.5" y2="365.5" stroke="#000" stroke-width="1.1"/>
<rect x="936.8" y="351.4" width="5.5" height="11.9" fill="#f23645" stroke="#000" stroke-width="1"/>
<line x1="947.5" y1="354.0" x2="947.5" y2="392.7" stroke="#000" stroke-width="1.1"/>
<rect x="944.8" y="363.3" width="5.5" height="20.1" fill="#f23645" stroke="#000" stroke-width="1"/>
<line x1="956.5" y1="379.3" x2="956.5" y2="399.6" stroke="#000" stroke-width="1.1"/>
<rect x="953.8" y="379.3" width="5.5" height="4.2" fill="#22ab94" stroke="#000" stroke-width="1"/>
<line x1="965.5" y1="365.7" x2="965.5" y2="432.6" stroke="#000" stroke-width="1.1"/>
<rect x="962.8" y="379.3" width="5.5" height="52.4" fill="#f23645" stroke="#000" stroke-width="1"/>
<line x1="970.1" y1="431.4" x2="978.9" y2="431.4" stroke="#000" stroke-width="1.3" stroke-dasharray="4,2.2"/>
<line x1="983.5" y1="406.0" x2="983.5" y2="458.5" stroke="#000" stroke-width="1.1"/>
<rect x="980.8" y="431.4" width="5.5" height="19.8" fill="#f23645" stroke="#000" stroke-width="1"/>
<line x1="992.5" y1="422.4" x2="992.5" y2="456.8" stroke="#000" stroke-width="1.1"/>
<rect x="989.8" y="422.4" width="5.5" height="28.8" fill="#22ab94" stroke="#000" stroke-width="1"/>
<line x1="1001.5" y1="370.4" x2="1001.5" y2="422.4" stroke="#000" stroke-width="1.1"/>
<rect x="998.8" y="370.4" width="5.5" height="52.0" fill="#22ab94" stroke="#000" stroke-width="1"/>
<line x1="1010.5" y1="297.9" x2="1010.5" y2="386.9" stroke="#000" stroke-width="1.1"/>
<rect x="1007.8" y="348.3" width="5.5" height="22.1" fill="#22ab94" stroke="#000" stroke-width="1"/>
<line x1="1018.5" y1="346.2" x2="1018.5" y2="375.9" stroke="#000" stroke-width="1.1"/>
<rect x="1015.8" y="348.4" width="5.5" height="22.0" fill="#f23645" stroke="#000" stroke-width="1"/>
<line x1="1027.5" y1="370.4" x2="1027.5" y2="394.5" stroke="#000" stroke-width="1.1"/>
<rect x="1024.8" y="370.4" width="5.5" height="4.1" fill="#f23645" stroke="#000" stroke-width="1"/>
<line x1="1036.5" y1="326.4" x2="1036.5" y2="381.8" stroke="#000" stroke-width="1.1"/>
<rect x="1033.8" y="326.4" width="5.5" height="48.1" fill="#22ab94" stroke="#000" stroke-width="1"/>
<line x1="1045.5" y1="316.0" x2="1045.5" y2="364.9" stroke="#000" stroke-width="1.1"/>
<rect x="1042.8" y="326.4" width="5.5" height="8.1" fill="#f23645" stroke="#000" stroke-width="1"/>
<line x1="1050.1" y1="334.4" x2="1058.9" y2="334.4" stroke="#000" stroke-width="1.3" stroke-dasharray="4,2.2"/>
<line x1="1059.1" y1="334.4" x2="1067.9" y2="334.4" stroke="#000" stroke-width="1.3" stroke-dasharray="4,2.2"/>
<line x1="1068.1" y1="334.4" x2="1076.9" y2="334.4" stroke="#000" stroke-width="1.3" stroke-dasharray="4,2.2"/>
<line x1="1081.5" y1="334.5" x2="1081.5" y2="356.4" stroke="#000" stroke-width="1.1"/>
<rect x="1078.8" y="334.5" width="5.5" height="17.6" fill="#f23645" stroke="#000" stroke-width="1"/>
<line x1="1090.5" y1="346.2" x2="1090.5" y2="375.9" stroke="#000" stroke-width="1.1"/>
<rect x="1087.8" y="352.3" width="5.5" height="2.2" fill="#f23645" stroke="#000" stroke-width="1"/>
<line x1="1098.5" y1="319.5" x2="1098.5" y2="363.2" stroke="#000" stroke-width="1.1"/>
<rect x="1095.8" y="325.2" width="5.5" height="29.3" fill="#22ab94" stroke="#000" stroke-width="1"/>
<line x1="1107.5" y1="316.5" x2="1107.5" y2="330.9" stroke="#000" stroke-width="1.1"/>
<rect x="1104.8" y="322.4" width="5.5" height="2.9" fill="#22ab94" stroke="#000" stroke-width="1"/>
<line x1="1116.5" y1="322.4" x2="1116.5" y2="341.6" stroke="#000" stroke-width="1.1"/>
<rect x="1113.8" y="322.4" width="5.5" height="8.0" fill="#f23645" stroke="#000" stroke-width="1"/>
<line x1="1125.5" y1="326.3" x2="1125.5" y2="336.8" stroke="#000" stroke-width="1.1"/>
<rect x="1122.8" y="330.4" width="5.5" height="5.2" fill="#f23645" stroke="#000" stroke-width="1"/>
<line x1="1134.5" y1="335.1" x2="1134.5" y2="349.5" stroke="#000" stroke-width="1.1"/>
<rect x="1131.8" y="335.1" width="5.5" height="8.5" fill="#f23645" stroke="#000" stroke-width="1"/>
<line x1="1143.5" y1="274.5" x2="1143.5" y2="345.3" stroke="#000" stroke-width="1.1"/>
<rect x="1140.8" y="274.5" width="5.5" height="69.1" fill="#22ab94" stroke="#000" stroke-width="1"/>
<line x1="1152.5" y1="154.4" x2="1152.5" y2="280.1" stroke="#000" stroke-width="1.1"/>
<rect x="1149.8" y="190.4" width="5.5" height="84.1" fill="#22ab94" stroke="#000" stroke-width="1"/>
<line x1="1161.5" y1="179.3" x2="1161.5" y2="228.4" stroke="#000" stroke-width="1.1"/>
<rect x="1158.8" y="190.4" width="5.5" height="21.0" fill="#f23645" stroke="#000" stroke-width="1"/>
<line x1="1169.5" y1="182.0" x2="1169.5" y2="224.6" stroke="#000" stroke-width="1.1"/>
<rect x="1166.8" y="194.5" width="5.5" height="16.9" fill="#22ab94" stroke="#000" stroke-width="1"/>
<line x1="1178.5" y1="190.4" x2="1178.5" y2="252.6" stroke="#000" stroke-width="1.1"/>
<rect x="1175.8" y="194.5" width="5.5" height="36.1" fill="#f23645" stroke="#000" stroke-width="1"/>
<line x1="1187.5" y1="209.4" x2="1187.5" y2="260.5" stroke="#000" stroke-width="1.1"/>
<rect x="1184.8" y="212.5" width="5.5" height="18.1" fill="#22ab94" stroke="#000" stroke-width="1"/>
<line x1="1196.5" y1="206.4" x2="1196.5" y2="230.6" stroke="#000" stroke-width="1.1"/>
<rect x="1193.8" y="212.8" width="5.5" height="2.5" fill="#f23645" stroke="#000" stroke-width="1"/>
<line x1="1205.5" y1="210.3" x2="1205.5" y2="230.6" stroke="#000" stroke-width="1.1"/>
<rect x="1202.8" y="213.6" width="5.5" height="2.1" fill="#22ab94" stroke="#000" stroke-width="1"/>
<line x1="1214.5" y1="160.0" x2="1214.5" y2="220.4" stroke="#000" stroke-width="1.1"/>
<rect x="1211.8" y="167.4" width="5.5" height="45.7" fill="#22ab94" stroke="#000" stroke-width="1"/>
<line x1="1223.5" y1="156.1" x2="1223.5" y2="183.7" stroke="#000" stroke-width="1.1"/>
<rect x="1220.8" y="167.4" width="5.5" height="6.0" fill="#f23645" stroke="#000" stroke-width="1"/>
<line x1="1232.5" y1="170.5" x2="1232.5" y2="191.3" stroke="#000" stroke-width="1.1"/>
<rect x="1229.8" y="173.4" width="5.5" height="17.9" fill="#f23645" stroke="#000" stroke-width="1"/>
<polyline points="10.0,428.0 24.7,414.5 86.2,495.4 131.6,432.6 159.0,451.0 166.0,451.0 193.0,417.0 261.8,366.3 289.0,390.8 353.2,155.9 387.9,240.0 398.0,293.0 406.0,293.0 433.4,158.4 469.3,200.0 504.5,235.3 575.0,160.0 618.3,111.0 710.8,227.2 752.5,176.8 840.7,377.9 877.5,311.3 984.0,451.7 1037.4,326.4 1084.0,350.3 1135.5,341.9 1152.3,190.4 1181.5,229.8 1215.4,167.4" fill="none" stroke="#5c6bc0" stroke-opacity="0.75" stroke-width="1.2" stroke-dasharray="1.5,2.5"/>
<line x1="10" y1="388" x2="620" y2="111" stroke="#e04848" stroke-width="1.3" stroke-dasharray="1.8,2.4"/>
<polyline points="10.0,482.5 619.4,111.1 983.2,452.0 1214.5,167.0" fill="none" stroke="#2f9c82" stroke-width="2.5" stroke-linejoin="miter"/>
<line x1="11" y1="191.4" x2="1464" y2="191.4" stroke="#f23645" stroke-width="1.2" stroke-dasharray="1.5,2.5"/>
<polyline points="1240.1,191.5 1250.2,202.8 1267.6,180.4 1276.4,189.1 1295.2,165.9" fill="none" stroke="#2962ff" stroke-width="2" stroke-linejoin="round"/>
<polyline points="1280.7,167.4 1295.2,165.9 1298.1,179" fill="none" stroke="#2962ff" stroke-width="2" stroke-linejoin="round"/>
<rect x="1401" y="37" width="53" height="18.6" fill="#9fa9d9"/>
<text x="1427.5" y="49.9" font-size="10" fill="#5b6cc2" text-anchor="middle" font-weight="normal" >Level0</text>
<rect x="1401" y="57.2" width="53" height="25.3" fill="#e8f3ee"/>
<text x="1427.5" y="75.07" font-size="14.5" fill="#3b9b80" text-anchor="middle" font-weight="normal" >Level1</text>
<rect x="1401" y="84.1" width="53" height="18.5" fill="#f8867b"/>
<text x="1427.5" y="96.94999999999999" font-size="10" fill="#f03c34" text-anchor="middle" font-weight="normal" >Level2</text>
<rect x="1401" y="104.2" width="53" height="18.5" fill="#d29194"/>
<text x="1427.5" y="117.05" font-size="10" fill="#b14e57" text-anchor="middle" font-weight="normal" >Level3</text>
<rect x="1401" y="124.3" width="53" height="18.5" fill="#eda2c0"/>
<text x="1427.5" y="137.15" font-size="10" fill="#e0669a" text-anchor="middle" font-weight="normal" >Level4</text>
<rect x="1401" y="144.4" width="53" height="18.6" fill="#9dbb88"/>
<text x="1427.5" y="157.29999999999998" font-size="10" fill="#6b9a48" text-anchor="middle" font-weight="normal" >Level5</text>
<text x="10" y="18.8" font-size="12.5" fill="#131722" text-anchor="start" font-weight="normal" textLength="385" lengthAdjust="spacingAndGlyphs" >Ascv33 опубликовал(а) на TradingView.com, Апр 20, 2025 15:12 UTC+3</text>
<text x="18.4" y="45.9" font-size="12.5" fill="#131722" text-anchor="start" font-weight="normal" textLength="245" lengthAdjust="spacingAndGlyphs" >U.S. DOLLAR / KAZAKHSTANI TENGE · 1Д · ICE</text>
<text x="272.7" y="45.9" font-size="12.5" fill="#131722" text-anchor="start" font-weight="normal" textLength="64.6" lengthAdjust="spacingAndGlyphs" >ОТКР522,93</text>
<text x="345.4" y="45.9" font-size="12.5" fill="#131722" text-anchor="start" font-weight="normal" textLength="65.6" lengthAdjust="spacingAndGlyphs" >МАКС523,33</text>
<text x="418.6" y="45.9" font-size="12.5" fill="#131722" text-anchor="start" font-weight="normal" textLength="60.5" lengthAdjust="spacingAndGlyphs" >МИН520,68</text>
<text x="487" y="45.9" font-size="12.5" fill="#131722" text-anchor="start" font-weight="normal" textLength="62.5" lengthAdjust="spacingAndGlyphs" >ЗАКР520,68</text>
<text x="557.6" y="45.9" font-size="12.5" fill="#131722" text-anchor="start" font-weight="normal" textLength="77.8" lengthAdjust="spacingAndGlyphs" >−2,25 (−0,43%)</text>
<text x="18.4" y="62.8" font-size="12.5" fill="#131722" text-anchor="start" font-weight="normal" textLength="36" lengthAdjust="spacingAndGlyphs" >Объём</text>
<text x="62.2" y="62.8" font-size="12.5" fill="#f7525f" text-anchor="start" font-weight="normal" textLength="6.3" lengthAdjust="spacingAndGlyphs" >0</text>
<text x="18.4" y="79.8" font-size="12.5" fill="#131722" text-anchor="start" font-weight="normal" textLength="410.3" lengthAdjust="spacingAndGlyphs" >Strange MA (Hull Moving Average, 30, 50, SMA, 100, SMA, 200, SMA, Neutral)</text>
<text x="437.3" y="79.8" font-size="12.5" fill="#f7525f" text-anchor="start" font-weight="normal" textLength="35" lengthAdjust="spacingAndGlyphs" >522,37</text>
<text x="480.4" y="79.8" font-size="12.5" fill="#00e676" text-anchor="start" font-weight="normal" textLength="35" lengthAdjust="spacingAndGlyphs" >504,14</text>
<text x="523.4" y="79.8" font-size="12.5" fill="#ffeb3b" text-anchor="start" font-weight="normal" textLength="35" lengthAdjust="spacingAndGlyphs" >513,00</text>
<text x="566.5" y="79.8" font-size="12.5" fill="#f7525f" text-anchor="start" font-weight="normal" textLength="35" lengthAdjust="spacingAndGlyphs" >498,45</text>
<text x="609.5" y="79.8" font-size="12.5" fill="#00e676" text-anchor="start" font-weight="normal" textLength="35" lengthAdjust="spacingAndGlyphs" >504,40</text>
<text x="652.6" y="79.8" font-size="12.5" fill="#00e676" text-anchor="start" font-weight="normal" textLength="35" lengthAdjust="spacingAndGlyphs" >504,69</text>
<text x="695.7" y="79.8" font-size="12.5" fill="#00e676" text-anchor="start" font-weight="normal" textLength="35" lengthAdjust="spacingAndGlyphs" >505,01</text>
<text x="738.7" y="79.8" font-size="12.5" fill="#00e676" text-anchor="start" font-weight="normal" textLength="35" lengthAdjust="spacingAndGlyphs" >505,44</text>
<text x="781.8" y="79.8" font-size="12.5" fill="#00e676" text-anchor="start" font-weight="normal" textLength="35" lengthAdjust="spacingAndGlyphs" >505,90</text>
<text x="824.8" y="79.8" font-size="12.5" fill="#00e676" text-anchor="start" font-weight="normal" textLength="35" lengthAdjust="spacingAndGlyphs" >506,37</text>
<text x="867.9" y="79.8" font-size="12.5" fill="#00e676" text-anchor="start" font-weight="normal" textLength="35" lengthAdjust="spacingAndGlyphs" >506,79</text>
<text x="911.0" y="79.8" font-size="12.5" fill="#00e676" text-anchor="start" font-weight="normal" textLength="35" lengthAdjust="spacingAndGlyphs" >507,17</text>
<text x="954.0" y="79.8" font-size="12.5" fill="#00e676" text-anchor="start" font-weight="normal" textLength="35" lengthAdjust="spacingAndGlyphs" >507,54</text>
<text x="997.1" y="79.8" font-size="12.5" fill="#00e676" text-anchor="start" font-weight="normal" textLength="35" lengthAdjust="spacingAndGlyphs" >507,84</text>
<text x="1040.1" y="79.8" font-size="12.5" fill="#ffeb3b" text-anchor="start" font-weight="normal" textLength="35" lengthAdjust="spacingAndGlyphs" >512,96</text>
<text x="1083.2" y="79.8" font-size="12.5" fill="#ffeb3b" text-anchor="start" font-weight="normal" textLength="35" lengthAdjust="spacingAndGlyphs" >512,94</text>
<text x="1126.3" y="79.8" font-size="12.5" fill="#ffeb3b" text-anchor="start" font-weight="normal" textLength="35" lengthAdjust="spacingAndGlyphs" >512,90</text>
<text x="1169.3" y="79.8" font-size="12.5" fill="#ffeb3b" text-anchor="start" font-weight="normal" textLength="35" lengthAdjust="spacingAndGlyphs" >512,89</text>
<text x="1212.4" y="79.8" font-size="12.5" fill="#ffeb3b" text-anchor="start" font-weight="normal" textLength="35" lengthAdjust="spacingAndGlyphs" >513,02</text>
<text x="1255.4" y="79.8" font-size="12.5" fill="#ffeb3b" text-anchor="start" font-weight="normal" textLength="35" lengthAdjust="spacingAndGlyphs" >513,14</text>
<text x="1298.5" y="79.8" font-size="12.5" fill="#ffeb3b" text-anchor="start" font-weight="normal" textLength="35" lengthAdjust="spacingAndGlyphs" >513,24</text>
<text x="1341.6" y="79.8" font-size="12.5" fill="#ffeb3b" text-anchor="start" font-weight="normal" textLength="35" lengthAdjust="spacingAndGlyphs" >513,24</text>
<text x="1384.6" y="79.8" font-size="12.5" fill="#ffeb3b" text-anchor="start" font-weight="normal" textLength="35" lengthAdjust="spacingAndGlyphs" >513,22</text>
<text x="1420" y="77.5" font-size="12" fill="#131722" text-anchor="start" font-weight="normal" textLength="13" lengthAdjust="spacingAndGlyphs" >...</text>
<rect x="1467.8" y="30.8" width="45.7" height="26.3" rx="4" fill="#fff" stroke="#e8e9ec" stroke-width="1"/>
<text x="1477.3" y="48.7" font-size="12" fill="#131722" text-anchor="start" font-weight="normal" textLength="19.8" lengthAdjust="spacingAndGlyphs" >KZT</text>
<text x="1473.5" y="551.2" font-size="12" fill="#131722" text-anchor="start" font-weight="normal" textLength="35" lengthAdjust="spacingAndGlyphs" >476,00</text>
<text x="1473.5" y="519.2" font-size="12" fill="#131722" text-anchor="start" font-weight="normal" textLength="35" lengthAdjust="spacingAndGlyphs" >480,00</text>
<text x="1473.5" y="487.3" font-size="12" fill="#131722" text-anchor="start" font-weight="normal" textLength="35" lengthAdjust="spacingAndGlyphs" >484,00</text>
<text x="1473.5" y="455.4" font-size="12" fill="#131722" text-anchor="start" font-weight="normal" textLength="35" lengthAdjust="spacingAndGlyphs" >488,00</text>
<text x="1473.5" y="423.4" font-size="12" fill="#131722" text-anchor="start" font-weight="normal" textLength="35" lengthAdjust="spacingAndGlyphs" >492,00</text>
<text x="1473.5" y="391.5" font-size="12" fill="#131722" text-anchor="start" font-weight="normal" textLength="35" lengthAdjust="spacingAndGlyphs" >496,00</text>
<text x="1473.5" y="359.6" font-size="12" fill="#131722" text-anchor="start" font-weight="normal" textLength="35" lengthAdjust="spacingAndGlyphs" >500,00</text>
<text x="1473.5" y="327.6" font-size="12" fill="#131722" text-anchor="start" font-weight="normal" textLength="35" lengthAdjust="spacingAndGlyphs" >504,00</text>
<text x="1473.5" y="295.7" font-size="12" fill="#131722" text-anchor="start" font-weight="normal" textLength="35" lengthAdjust="spacingAndGlyphs" >508,00</text>
<text x="1473.5" y="263.8" font-size="12" fill="#131722" text-anchor="start" font-weight="normal" textLength="35" lengthAdjust="spacingAndGlyphs" >512,00</text>
<text x="1473.5" y="231.8" font-size="12" fill="#131722" text-anchor="start" font-weight="normal" textLength="35" lengthAdjust="spacingAndGlyphs" >516,00</text>
<text x="1473.5" y="199.9" font-size="12" fill="#131722" text-anchor="start" font-weight="normal" textLength="35" lengthAdjust="spacingAndGlyphs" >520,00</text>
<text x="1473.5" y="167.9" font-size="12" fill="#131722" text-anchor="start" font-weight="normal" textLength="35" lengthAdjust="spacingAndGlyphs" >524,00</text>
<text x="1473.5" y="136.0" font-size="12" fill="#131722" text-anchor="start" font-weight="normal" textLength="35" lengthAdjust="spacingAndGlyphs" >528,00</text>
<text x="1473.5" y="104.1" font-size="12" fill="#131722" text-anchor="start" font-weight="normal" textLength="35" lengthAdjust="spacingAndGlyphs" >532,00</text>
<text x="1473.5" y="72.1" font-size="12" fill="#131722" text-anchor="start" font-weight="normal" textLength="35" lengthAdjust="spacingAndGlyphs" >536,00</text>
<text x="1473.5" y="606.3" font-size="12" fill="#131722" text-anchor="start" font-weight="normal" textLength="23.5" lengthAdjust="spacingAndGlyphs" >0,00</text>
<text x="1473.5" y="756.3" font-size="12" fill="#131722" text-anchor="start" font-weight="normal" textLength="29.5" lengthAdjust="spacingAndGlyphs" >20,00</text>
<text x="1473.5" y="720.3" font-size="12" fill="#131722" text-anchor="start" font-weight="normal" textLength="29.5" lengthAdjust="spacingAndGlyphs" >40,00</text>
<text x="1473.5" y="684.3" font-size="12" fill="#131722" text-anchor="start" font-weight="normal" textLength="29.5" lengthAdjust="spacingAndGlyphs" >60,00</text>
<text x="1473.5" y="648.3" font-size="12" fill="#131722" text-anchor="start" font-weight="normal" textLength="29.5" lengthAdjust="spacingAndGlyphs" >80,00</text>
<rect x="1465" y="142.3" width="49" height="33.0" rx="2" fill="#f23645"/>
<text x="1472.9" y="153.8" font-size="12" fill="#ffffff" text-anchor="start" font-weight="bold" textLength="35.8" lengthAdjust="spacingAndGlyphs" >525,33</text>
<text x="1472.9" y="170.5" font-size="12" fill="#ffffff" text-anchor="start" font-weight="bold" textLength="35.8" lengthAdjust="spacingAndGlyphs" >523,68</text>
<rect x="1465" y="183.1" width="49" height="16.4" rx="2" fill="#f23645"/>
<text x="1472.9" y="195.0" font-size="12" fill="#ffffff" text-anchor="start" font-weight="bold" textLength="35.8" lengthAdjust="spacingAndGlyphs" >520,68</text>
<rect x="1465" y="222.1" width="49" height="16.4" rx="2" fill="#4caf50"/>
<text x="1472.9" y="234.0" font-size="12" fill="#ffffff" text-anchor="start" font-weight="bold" textLength="35.8" lengthAdjust="spacingAndGlyphs" >515,83</text>
<rect x="1465" y="254.2" width="49" height="16.4" rx="2" fill="#4caf50"/>
<text x="1472.9" y="265.7" font-size="12" fill="#ffffff" text-anchor="start" font-weight="bold" textLength="35.8" lengthAdjust="spacingAndGlyphs" >511,82</text>
<rect x="1465" y="414" width="49" height="17.7" rx="2" fill="#4caf50"/>
<text x="1472.9" y="427.5" font-size="12" fill="#ffffff" text-anchor="start" font-weight="bold" textLength="35.8" lengthAdjust="spacingAndGlyphs" >491,67</text>
<rect x="1465" y="449.1" width="49" height="16.7" rx="2" fill="#4caf50"/>
<text x="1472.9" y="461.6" font-size="12" fill="#ffffff" text-anchor="start" font-weight="bold" textLength="35.8" lengthAdjust="spacingAndGlyphs" >487,44</text>
<g>
<line x1="10" y1="682.5" x2="352.1" y2="633.7" stroke="#7fb5b5" stroke-width="1.1" stroke-dasharray="1.5,3"/>
<polyline points="352.1,633.7 840.7,750.9 1152.1,656.6" fill="none" stroke="#7fb5b5" stroke-width="1.1" stroke-dasharray="1.5,3"/>
<line x1="10" y1="681.6" x2="840.7" y2="750.9" stroke="#b5264d" stroke-width="1.4" stroke-dasharray="1.8,2.4"/>
<polyline points="85.6,703.5 130.1,676.6 157.1,686.5 192.9,672.9 201.6,679.5 227.7,666.9 236.9,683.9 263.9,665.9 290.1,680.3 352.1,633.7 388.0,690.5 432.4,665.6 503.9,695.7 575.1,668.5 600.7,679.5 619.1,667.7 707.5,722.1 752.6,694.4 840.7,750.9 876.9,715.3 921.4,727.3 930.0,717.4 983.7,741.5 1036.5,690.7 1081.0,701.2 1107.2,688.6 1134.7,698.8 1152.1,656.6 1178.9,676.6 1214.9,663.6" fill="none" stroke="#ffb74d" stroke-opacity="0.8" stroke-width="1.2" stroke-dasharray="1.5,3"/>
<polyline points="10.5,658.5 23.6,650.7 32.7,693.1 41.9,688.1 50.3,682.1 58.9,682.1 67.5,686.5 76.7,701.7 85.6,703.5 94.8,694.4 103.4,697.0 112.0,690.5 120.9,690.5 130.1,676.6 138.7,677.6 147.9,686.5 157.1,686.5 165.7,683.9 174.9,686.5 183.2,684.2 192.9,672.9 201.6,679.5 210.2,675.5 218.6,666.9 227.7,666.9 236.9,683.9 246.1,674.2 255.2,671.6 263.9,665.9 273.0,676.1 281.4,677.6 290.1,680.3 299.0,670.3 308.1,671.1 317.3,671.6 325.9,662.0 335.1,645.5 343.7,641.0 352.1,633.7 361.3,642.3 369.9,641.0 379.1,653.3 388.0,690.5 396.5,690.5 406.2,685.5 414.9,669.8 424.0,667.7 432.4,665.6 441.0,665.6 449.7,668.2 458.6,672.9 468.0,669.5 476.4,669.0 486.3,681.3 494.7,690.7 503.9,695.7 513.0,688.6 520.9,680.0 530.6,677.6 539.2,676.9 548.4,676.9 557.0,676.9 565.9,676.9 575.1,668.5 583.7,668.5 592.1,677.4 600.7,679.5 609.9,676.1 619.1,667.7 628.2,672.9 636.6,674.8 645.2,672.9 654.4,672.1 663.6,673.7 672.2,700.4 680.6,708.8 689.7,710.1 698.4,717.4 707.5,722.1 715.9,720.8 725.1,716.1 734.2,711.4 743.4,710.9 752.6,694.4 761.2,704.3 769.6,714.0 778.7,722.6 789.2,731.0 797.8,736.2 806.2,739.6 815.3,740.9 823.2,748.0 832.4,750.1 840.7,750.9 850.2,739.6 859.1,730.5 867.7,730.5 876.9,715.3 886.0,727.3 894.7,729.2 903.0,722.1 912.2,725.2 921.4,727.3 930.0,717.4 938.4,721.3 947.5,726.6 956.7,724.7 965.3,737.0 974.2,737.8 983.7,741.5 992.0,725.2 1001.2,705.1 1009.8,698.3 1018.7,705.1 1027.4,706.4 1036.5,690.7 1045.7,693.9 1054.3,693.9 1063.2,693.9 1072.7,693.9 1081.0,701.2 1090.2,701.7 1098.8,689.9 1107.2,688.6 1117.2,692.5 1126.1,695.2 1134.7,698.8 1143.3,675.6 1152.1,656.6 1160.9,665.6 1170.0,662.5 1178.9,676.6 1188.0,672.8 1197.1,674.1 1206.0,673.4 1214.9,663.6 1223.7,666.5 1231.9,673.7" fill="none" stroke="#2962ff" stroke-opacity="0.85" stroke-width="1.3" stroke-linejoin="round"/>
<polyline points="10.0,660.0 23.6,650.7 85.6,703.5 352.1,633.7 503.9,695.7 619.1,667.7 840.7,750.9 876.9,715.3 983.7,741.5 1152.1,656.6" fill="none" stroke="#7b3f6e" stroke-width="2.6" stroke-linejoin="round"/>
</g>
<text x="18" y="638" font-size="12.5" fill="#131722" text-anchor="start" font-weight="normal" textLength="147" lengthAdjust="spacingAndGlyphs" >DZ [Trendoscope®] (rsi, 14)</text>
<rect x="1401.1" y="628.8" width="53" height="19.2" fill="#f8cf9c"/>
<text x="1427.6" y="642.0" font-size="10" fill="#f5a347" text-anchor="middle" font-weight="normal" >Level0</text>
<rect x="1401.1" y="649.4" width="53" height="25.3" fill="#f3e9ef"/>
<text x="1427.6" y="667.0899999999999" font-size="14" fill="#7b3f6e" text-anchor="middle" font-weight="normal" >Level1</text>
<rect x="1401.1" y="676.3" width="53" height="18.4" fill="#b3ccd3"/>
<text x="1427.6" y="689.1" font-size="10" fill="#7ea7b3" text-anchor="middle" font-weight="normal" >Level2</text>
<rect x="1401.1" y="696" width="53" height="18.7" fill="#d18ff1"/>
<text x="1427.6" y="708.95" font-size="10" fill="#a64fd6" text-anchor="middle" font-weight="normal" >Level3</text>
<rect x="1401.1" y="716.1" width="53" height="18.4" fill="#cd8fb3"/>
<text x="1427.6" y="728.9" font-size="10" fill="#9b497a" text-anchor="middle" font-weight="normal" >Level4</text>
<rect x="1401.1" y="735.9" width="53" height="18.6" fill="#e08a7a"/>
<text x="1427.6" y="748.8000000000001" font-size="10" fill="#c0432f" text-anchor="middle" font-weight="normal" >Level5</text>
<rect x="1401.1" y="755.9" width="53" height="7.5" fill="#87a9a0"/>
<text x="166.5" y="781.8" font-size="12" fill="#131722" text-anchor="middle" font-weight="normal" >Ноя</text>
<text x="353" y="781.8" font-size="12" fill="#131722" text-anchor="middle" font-weight="normal" >Дек</text>
<text x="548" y="781.8" font-size="12" fill="#131722" text-anchor="middle" font-weight="bold" >2025</text>
<text x="752.4" y="781.8" font-size="12" fill="#131722" text-anchor="middle" font-weight="normal" >Фев</text>
<text x="930.4" y="781.8" font-size="12" fill="#131722" text-anchor="middle" font-weight="normal" >Мар</text>
<text x="1117.3" y="781.8" font-size="12" fill="#131722" text-anchor="middle" font-weight="normal" >Апр</text>
<text x="1312" y="781.8" font-size="12" fill="#131722" text-anchor="middle" font-weight="normal" >Май</text>
<path d="M10,804 H19.5 V814 H15.3 V808.2 H10 Z" fill="#131722"/>
<circle cx="22.2" cy="806.1" r="2.1" fill="#131722"/>
<path d="M25.5,804 H30 L25.6,814 H21 Z" fill="#131722"/>
<text x="33.5" y="814" font-size="13.5" fill="#131722" text-anchor="start" font-weight="normal" textLength="69.5" lengthAdjust="spacingAndGlyphs" >TradingView</text>
</svg>
</body></html>
